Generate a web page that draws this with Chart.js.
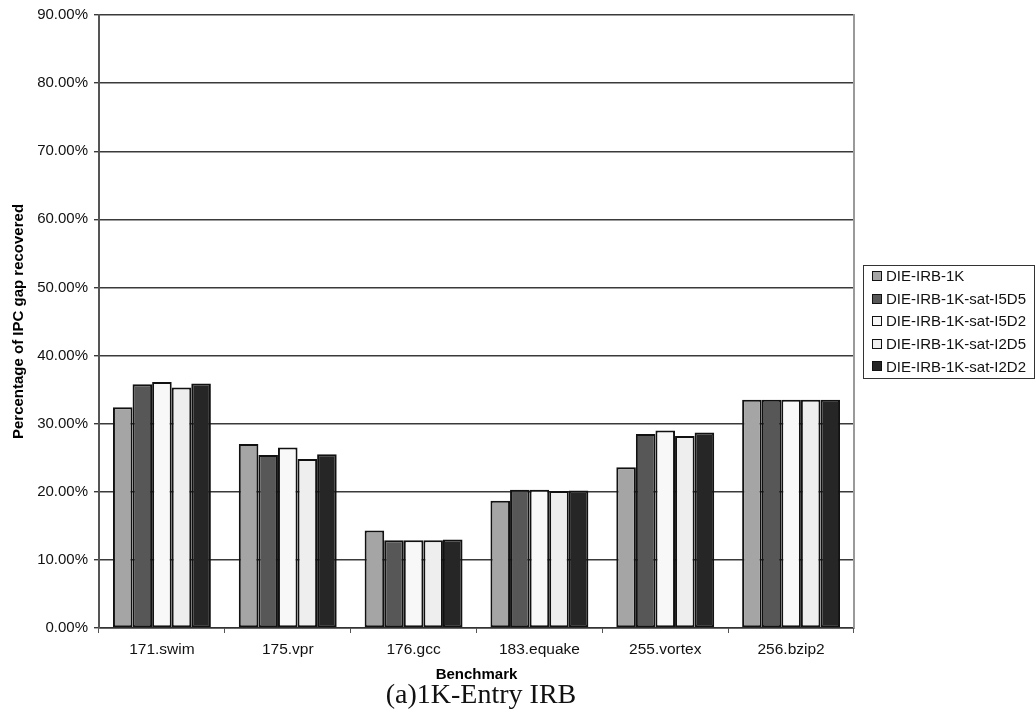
<!DOCTYPE html>
<html>
<head>
<meta charset="utf-8">
<script src="https://cdn.jsdelivr.net/npm/chart.js@4.4.1/dist/chart.umd.min.js"></script>
<style>
  html, body { margin: 0; padding: 0; background: #ffffff; }
  #wrap { position: relative; width: 1036px; height: 719px; overflow: hidden; }
  #chart { position: absolute; left: 0; top: 0; }
  #caption {
    position: absolute; left: 481px; top: 679px; transform: translateX(-50%);
    font-family: "Liberation Serif", "DejaVu Serif", serif; font-size: 28px;
    line-height: 30px; color: #111; white-space: nowrap;
  }
</style>
</head>
<body>
<div id="wrap">
  <canvas id="chart" width="1036" height="719"></canvas>
  <div id="caption">(a)1K-Entry IRB</div>
</div>
<script>
// Benchmarks on the x axis
const benchmarks = ['171.swim', '175.vpr', '176.gcc', '183.equake', '255.vortex', '256.bzip2'];

// Percentage of IPC gap recovered, per configuration
const irb1k      = [32.4, 27.0, 14.3, 18.7, 23.6, 33.5];
const satI5D5    = [35.8, 25.4, 12.9, 20.3, 28.5, 33.5];
const satI5D2    = [36.1, 26.5, 12.9, 20.3, 29.0, 33.5];
const satI2D5    = [35.3, 24.8, 12.9, 20.1, 28.2, 33.5];
const satI2D2    = [35.9, 25.5, 13.0, 20.2, 28.7, 33.5];

const seriesNames = ['DIE-IRB-1K', 'DIE-IRB-1K-sat-I5D5', 'DIE-IRB-1K-sat-I5D2', 'DIE-IRB-1K-sat-I2D5', 'DIE-IRB-1K-sat-I2D2'];
const seriesData  = [irb1k, satI5D5, satI5D2, satI2D5, satI2D2];
const seriesFill  = ['#a5a5a5', '#575757', '#f8f8f8', '#eeeeee', '#262626'];

const FONT = '"Liberation Sans", Arial, Helvetica, sans-serif';

// Boxed legend at the right side, outside the plot area
const boxLegend = {
  id: 'boxLegend',
  afterDraw(chart) {
    const ctx = chart.ctx;
    const x0 = 863.5, y0 = 265.5, w = 171, h = 113;
    ctx.save();
    ctx.strokeStyle = '#333';
    ctx.lineWidth = 1;
    ctx.strokeRect(x0, y0, w, h);
    ctx.font = '15px ' + FONT;
    ctx.textBaseline = 'middle';
    ctx.textAlign = 'left';
    chart.data.datasets.forEach((ds, i) => {
      const cy = 276 + i * 22.6;
      ctx.fillStyle = ds.backgroundColor;
      ctx.fillRect(872, Math.round(cy - 5), 10, 10);
      ctx.strokeStyle = '#111';
      ctx.strokeRect(872.5, Math.round(cy - 5) + 0.5, 9, 9);
      ctx.fillStyle = '#111';
      ctx.fillText(ds.label, 886, cy + 1);
    });
    ctx.restore();
  }
};

// Light frame line on the right edge of the plot area
const rightEdge = {
  id: 'rightEdge',
  afterDraw(chart) {
    const a = chart.chartArea, ctx = chart.ctx;
    ctx.save();
    ctx.strokeStyle = '#9a9a9a';
    ctx.lineWidth = 2;
    ctx.beginPath();
    ctx.moveTo(a.right, a.top - 1);
    ctx.lineTo(a.right, a.bottom);
    ctx.stroke();
    ctx.restore();
  }
};

new Chart(document.getElementById('chart'), {
  type: 'bar',
  data: {
    labels: benchmarks,
    datasets: seriesNames.map((name, i) => ({
      label: name,
      data: seriesData[i],
      backgroundColor: seriesFill[i],
      borderColor: '#111',
      borderWidth: 2,
      borderSkipped: false,
      categoryPercentage: 0.778,
      barPercentage: 1.0
    }))
  },
  options: {
    responsive: false,
    devicePixelRatio: 1,
    animation: false,
    layout: { padding: { left: 0, top: 15, right: 182, bottom: 31 } },
    plugins: {
      legend: { display: false },
      tooltip: { enabled: false }
    },
    scales: {
      x: {
        afterFit(s) { s.height = 60; },
        grid: { display: true, drawOnChartArea: false, drawTicks: true, tickLength: 5, color: '#555', lineWidth: 1 },
        border: { display: true, color: '#333', width: 1.5 },
        ticks: { color: '#111', padding: 7, font: { family: FONT, size: 15.5 } },
        title: { display: true, text: 'Benchmark', color: '#000', padding: { top: 0, bottom: 4 }, font: { family: FONT, size: 15, weight: 'bold' } }
      },
      y: {
        min: 0,
        max: 90,
        afterFit(s) { s.width = 99; },
        grid: { color: '#3a3a3a', lineWidth: 1.4, tickLength: 5, drawTicks: true },
        border: { display: true, color: '#555', width: 2 },
        ticks: {
          stepSize: 10,
          color: '#111',
          padding: 6,
          font: { family: FONT, size: 15 },
          callback: v => v.toFixed(2) + '%'
        },
        title: { display: true, text: 'Percentage of IPC gap recovered', color: '#000', padding: { top: 10, bottom: 0 }, font: { family: FONT, size: 15, weight: 'bold' } }
      }
    }
  },
  plugins: [boxLegend, rightEdge]
});
</script>
</body>
</html>
